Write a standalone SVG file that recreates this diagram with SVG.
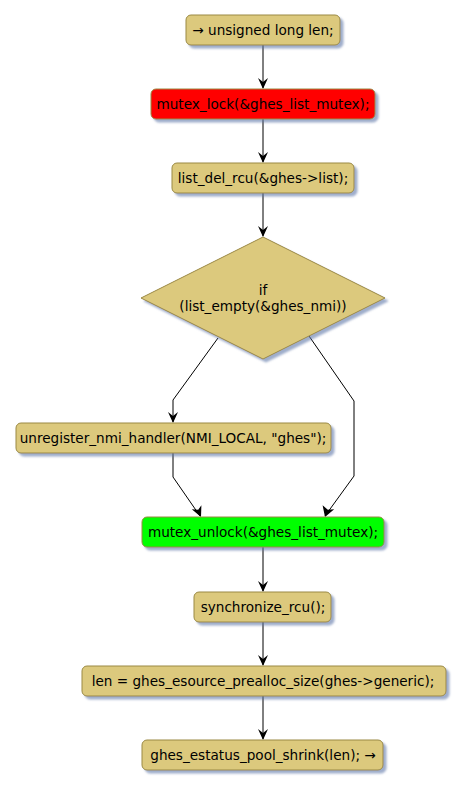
<svg xmlns="http://www.w3.org/2000/svg" width="464" height="788" viewBox="0 0 464 788">
<style>
.n{fill:#DCC97D;stroke:#9A8944;stroke-width:1;filter:url(#sh)}
.red{fill:#FF0000}
.grn{fill:#00FF00}
text{font-family:"DejaVu Sans",sans-serif;font-size:13.6px;fill:#000;text-anchor:middle}
.c{fill:none;stroke:#000;stroke-width:1}
.ah{fill:#000;stroke:none}
</style>
<defs>
<filter id="sh" x="-10%" y="-20%" width="130%" height="160%">
<feDropShadow dx="3" dy="3" stdDeviation="1.2" flood-color="#5F77A8" flood-opacity="0.6"/>
</filter>
</defs>
<g id="connectors">
<path class="c" d="M263 45V88"/>
<polygon class="ah" points="258,78 263,89 268,78 263,82"/>
<path class="c" d="M263 119V162"/>
<polygon class="ah" points="258,152 263,163 268,152 263,156"/>
<path class="c" d="M263 193V236"/>
<polygon class="ah" points="258,226 263,237 268,226 263,230"/>
<path class="c" d="M218 338L173 400V422"/>
<polygon class="ah" points="168,412 173,423 178,412 173,416"/>
<path class="c" d="M309 336L354 401V476L325 516"/>
<polygon class="ah" points="322.6,505.2 325,517 334.2,509.2 327.8,509.8"/>
<path class="c" d="M173 453V477L200 516"/>
<polygon class="ah" points="191.8,509.2 201,517 201.4,505.2 198.2,509.8"/>
<path class="c" d="M263 547V591"/>
<polygon class="ah" points="258,581 263,592 268,581 263,585"/>
<path class="c" d="M263 622V665"/>
<polygon class="ah" points="258,655 263,666 268,655 263,659"/>
<path class="c" d="M263 696V739"/>
<polygon class="ah" points="258,729 263,740 268,729 263,733"/>
</g>
<g id="n1"><rect class="n" x="186" y="15" width="154" height="30" rx="5"/><text x="263" y="35">→ unsigned long len;</text></g>
<g id="n2"><rect class="n red" x="151" y="89" width="224" height="30" rx="5"/><text x="263" y="109">mutex_lock(&amp;ghes_list_mutex);</text></g>
<g id="n3"><rect class="n" x="172" y="163" width="182" height="30" rx="5"/><text x="263" y="183">list_del_rcu(&amp;ghes-&gt;list);</text></g>
<g id="n4"><polygon class="n" points="263,237 385,298 263,359 141,298"/><text x="263" y="295">if</text><text x="263" y="311">(list_empty(&amp;ghes_nmi))</text></g>
<g id="n5"><rect class="n" x="16" y="423" width="315" height="30" rx="5"/><text x="173" y="443">unregister_nmi_handler(NMI_LOCAL, "ghes");</text></g>
<g id="n6"><rect class="n grn" x="142" y="517" width="242" height="30" rx="5"/><text x="263" y="537">mutex_unlock(&amp;ghes_list_mutex);</text></g>
<g id="n7"><rect class="n" x="194" y="592" width="137" height="30" rx="5"/><text x="263" y="612">synchronize_rcu();</text></g>
<g id="n8"><rect class="n" x="82" y="666" width="364" height="30" rx="5"/><text x="263" y="686">len = ghes_esource_prealloc_size(ghes-&gt;generic);</text></g>
<g id="n9"><rect class="n" x="142" y="740" width="241" height="30" rx="5"/><text x="263" y="760">ghes_estatus_pool_shrink(len); →</text></g>
</svg>
